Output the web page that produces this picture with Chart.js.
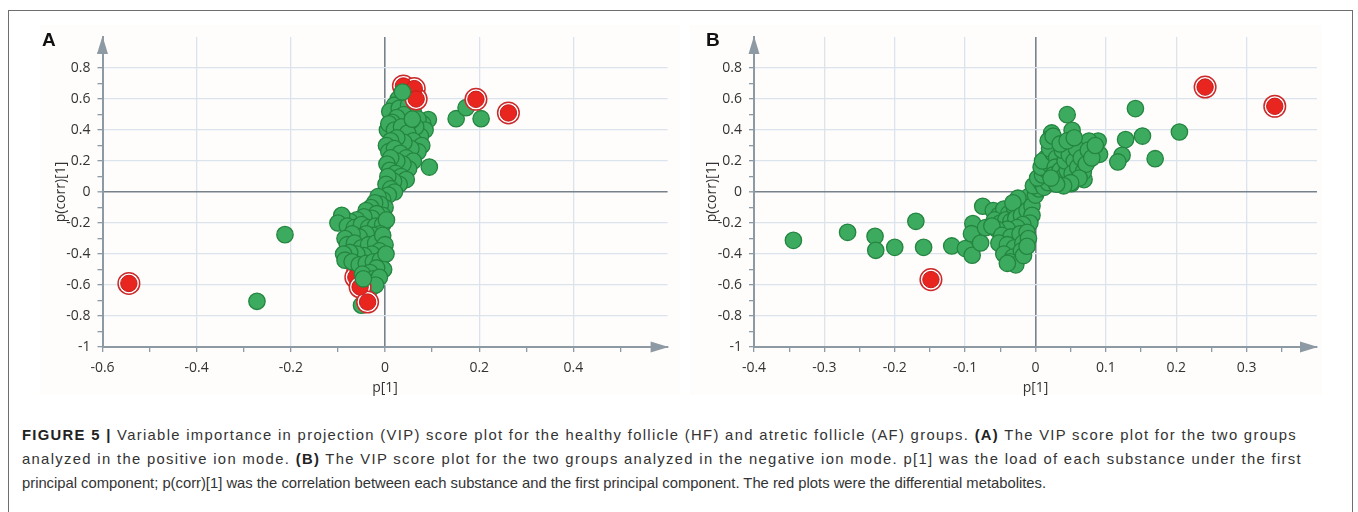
<!DOCTYPE html>
<html><head><meta charset="utf-8">
<script src="https://cdn.jsdelivr.net/npm/chart.js@4.4.0/dist/chart.umd.min.js"></script>
<style>
html,body{margin:0;padding:0;background:#fff;width:1358px;height:512px;overflow:hidden;position:relative;font-family:"Liberation Sans",Arial,sans-serif}
#frame{position:absolute;left:8px;top:10px;width:1345px;height:560px;border:1.5px solid #6e6e6e;box-sizing:border-box}
.bg{position:absolute;background:#fefdfc}
canvas{position:absolute;top:0}
.plab{position:absolute;font:bold 19px "Liberation Sans",Arial,sans-serif;color:#111}
.cap{position:absolute;left:22px;font-size:14.8px;color:#333;white-space:nowrap;line-height:24px}
.cap b{color:#222}
</style></head><body>
<div id="frame"></div>
<div class="bg" style="left:40px;top:25px;width:640px;height:370px"></div>
<div class="bg" style="left:690px;top:25px;width:632px;height:370px"></div>
<canvas id="cA" width="690" height="400" style="left:0"></canvas>
<canvas id="cB" width="668" height="400" style="left:690px"></canvas>
<div class="plab" style="left:42px;top:29px">A</div>
<div class="plab" style="left:706px;top:29px">B</div>
<div class="cap" data-w="1275" style="top:423px"><b>FIGURE 5 |</b> Variable importance in projection (VIP) score plot for the healthy follicle (HF) and atretic follicle (AF) groups. <b>(A)</b> The VIP score plot for the two groups</div>
<div class="cap" data-w="1280" style="top:447px">analyzed in the positive ion mode. <b>(B)</b> The VIP score plot for the two groups analyzed in the negative ion mode. p[1] was the load of each substance under the first</div>
<div class="cap" data-w="1024" style="top:471px">principal component; p(corr)[1] was the correlation between each substance and the first principal component. The red plots were the differential metabolites.</div>
<script>
// ---- data ----
const yTickLabels = [-1, -0.8, -0.6, -0.4, -0.2, 0, 0.2, 0.4, 0.6, 0.8];
const xTickLabelsA = [-0.6, -0.4, -0.2, 0, 0.2, 0.4];
const xTickLabelsB = [-0.4, -0.3, -0.2, -0.1, 0, 0.1, 0.2, 0.3];
const xTitle = 'p[1]';
const yTitle = 'p(corr)[1]';

const greenA = [
  [-0.272,-0.705],[-0.2125,-0.275],[0.094,0.161],[0.151,0.473],[0.172,0.544],[0.204,0.473],
  [0.028,0.60],[0.045,0.61],[0.020,0.56],[0.010,0.52],[0.030,0.54],[0.050,0.56],[0.060,0.52],
  [0.092,0.467],[0.080,0.44],[0.070,0.47],[0.085,0.40],[0.075,0.36],[0.065,0.42],[0.055,0.46],
  [0.040,0.50],[0.025,0.48],[0.015,0.45],[0.005,0.40],[0.008,0.44],[0.020,0.40],[0.035,0.42],
  [0.048,0.38],[0.060,0.33],[0.078,0.30],[0.070,0.26],[0.055,0.28],[0.040,0.32],[0.025,0.35],
  [0.012,0.33],[0.003,0.30],[0.008,0.26],[0.020,0.28],[0.032,0.25],[0.045,0.22],[0.060,0.20],
  [0.050,0.15],[0.038,0.18],[0.025,0.20],[0.012,0.22],[0.004,0.18],[0.010,0.14],[0.022,0.12],
  [0.034,0.10],[0.045,0.08],[0.030,0.05],[0.018,0.07],[0.006,0.10],[0.002,0.05],[0.012,0.02],
  [0.020,0.00],[0.007,-0.02],[-0.005,-0.05],[-0.015,-0.03],[0.000,-0.10],[-0.010,-0.08],
  [-0.022,-0.07],[-0.030,-0.10],[-0.040,-0.12],[-0.005,-0.15],[-0.018,-0.14],[-0.028,-0.17],
  [-0.045,-0.16],[-0.060,-0.18],[-0.075,-0.19],[-0.092,-0.15],[-0.100,-0.20],[-0.080,-0.22],
  [-0.065,-0.23],[-0.050,-0.21],[-0.035,-0.23],[-0.020,-0.22],[-0.005,-0.21],[0.003,-0.18],
  [-0.010,-0.27],[-0.025,-0.28],[-0.040,-0.27],[-0.055,-0.29],[-0.070,-0.27],[-0.085,-0.30],
  [-0.080,-0.34],[-0.065,-0.33],[-0.050,-0.36],[-0.035,-0.34],[-0.020,-0.33],[-0.005,-0.28],
  [0.000,-0.34],[-0.012,-0.38],[-0.028,-0.40],[-0.045,-0.41],[-0.060,-0.40],[-0.075,-0.39],
  [-0.088,-0.40],[-0.085,-0.44],[-0.070,-0.45],[-0.055,-0.47],[-0.040,-0.46],[-0.025,-0.45],
  [-0.010,-0.44],[0.002,-0.40],[-0.003,-0.50],[-0.018,-0.49],[-0.032,-0.52],[-0.048,-0.53],
  [-0.040,-0.57],[-0.025,-0.56],[-0.012,-0.55],
  [-0.030,-0.62],[-0.045,-0.63],[-0.020,-0.60],[-0.050,-0.73],[-0.038,-0.68]
];
const greenFrontA = [[0.037,0.645],[-0.046,-0.56],[0.058,0.47]];
const redBackA = [[0.048,0.495],[-0.058,-0.494],[-0.062,-0.55]];
const redA = [
  [-0.544,-0.59],[0.193,0.598],[0.262,0.51],
  [0.039,0.684],[0.062,0.667],[0.066,0.60],
  [-0.053,-0.613],[-0.037,-0.71]
];

const greenB = [
  [-0.344,-0.312],[-0.267,-0.260],[-0.228,-0.286],[-0.227,-0.376],[-0.200,-0.357],[-0.170,-0.189],
  [-0.159,-0.357],[-0.119,-0.348],[-0.0996,-0.365],[-0.090,-0.408],[-0.089,-0.204],[-0.091,-0.269],
  [-0.078,-0.329],[-0.071,-0.230],[-0.075,-0.092],
  [0.045,0.499],[0.052,0.398],[0.142,0.538],[0.152,0.361],[0.2045,0.387],[0.170,0.215],
  [0.128,0.338],[0.123,0.237],[0.117,0.194],[0.091,0.243],[0.089,0.329],[0.076,0.329],
  [0.069,0.080],[0.051,0.054],[0.023,0.381],[0.021,0.346],[0.0307,0.284],[0.0098,0.183],
  [-0.060,-0.12],[-0.052,-0.15],[-0.045,-0.11],[-0.038,-0.14],[-0.030,-0.10],[-0.022,-0.08],
  [-0.015,-0.05],[-0.010,-0.03],[-0.025,-0.04],[-0.032,-0.07],[-0.058,-0.18],[-0.050,-0.20],
  [-0.042,-0.18],[-0.035,-0.19],[-0.028,-0.17],[-0.020,-0.15],[-0.012,-0.12],[-0.005,-0.09],
  [-0.005,-0.15],[-0.008,-0.20],[-0.018,-0.21],[-0.026,-0.23],[-0.040,-0.24],[-0.055,-0.24],
  [-0.062,-0.22],[-0.048,-0.28],[-0.035,-0.29],[-0.022,-0.27],[-0.012,-0.26],[-0.052,-0.33],
  [-0.040,-0.34],[-0.030,-0.36],[-0.018,-0.33],[-0.010,-0.30],[-0.045,-0.40],[-0.032,-0.42],
  [-0.020,-0.38],[-0.036,-0.45],[-0.028,-0.47],[-0.017,-0.41],[-0.040,-0.46],[-0.012,-0.35],
  [0.000,-0.02],[0.005,0.02],[-0.003,0.04],[0.008,0.06],[0.012,0.03],[0.018,0.06],[0.003,0.09],
  [0.010,0.11],[0.016,0.14],[0.008,0.16],[0.020,0.18],[0.015,0.22],[0.010,0.20],[0.025,0.25],
  [0.020,0.28],[0.030,0.22],[0.028,0.16],[0.025,0.11],[0.035,0.14],[0.033,0.08],[0.040,0.10],
  [0.045,0.14],[0.042,0.20],[0.038,0.27],[0.048,0.24],[0.055,0.20],[0.052,0.12],[0.060,0.16],
  [0.058,0.28],[0.065,0.22],[0.068,0.13],[0.072,0.18],[0.062,0.09],[0.050,0.06],[0.040,0.04],
  [0.030,0.05],[0.022,0.09],[0.018,0.33],[0.025,0.36],[0.035,0.31],[0.045,0.33],[0.055,0.35],
  [0.075,0.27],[0.080,0.22],[0.085,0.30]
];
const greenFrontB = [];
const redBackB = [];
const redB = [[0.241,0.677],[0.340,0.553],[-0.1486,-0.565]];

// tick positions (minor + major)
const yTicks = [-1,-0.9,-0.8,-0.7,-0.6,-0.5,-0.4,-0.3,-0.2,-0.1,0,0.1,0.2,0.3,0.4,0.5,0.6,0.7,0.8,0.9,1];
const xTicksA = [-0.6,-0.5,-0.4,-0.3,-0.2,-0.1,0,0.1,0.2,0.3,0.4,0.5,0.6];
const xTicksB = [-0.4,-0.35,-0.3,-0.25,-0.2,-0.15,-0.1,-0.05,0,0.05,0.1,0.15,0.2,0.25,0.3,0.35,0.4];

// ---- caption fitting (letter-spacing so each line spans the reference width) ----
document.querySelectorAll('.cap').forEach(el => {
  const target = +el.dataset.w;
  const w = el.getBoundingClientRect().width;
  const n = el.textContent.length;
  el.style.letterSpacing = ((target - w) / n) + 'px';
});

// ---- styling ----
const GREEN_FILL = '#3dab5f', GREEN_EDGE = '#23853f';
const RED_FILL = '#e8251f', RED_EDGE = '#c41d1d', RED_RING = '#cc2a2a';
const GRID = '#dbe3ec', ZERO = '#77828c', AXIS = '#8d99a3';
Chart.defaults.font.family = '"Open Sans", "Noto Sans", sans-serif';
Chart.defaults.color = '#333';

const toPts = arr => arr.map(([x, y]) => ({x, y}));
const near = (a, b) => Math.abs(a - b) < 1e-6;

const arrowPlugin = {
  id: 'arrows',
  afterDraw(chart) {
    const {ctx, chartArea: a} = chart;
    ctx.save();
    ctx.fillStyle = AXIS;
    ctx.beginPath();
    ctx.moveTo(a.left, a.top - 1);
    ctx.lineTo(a.left - 5.5, a.top + 17);
    ctx.lineTo(a.left + 5.5, a.top + 17);
    ctx.closePath(); ctx.fill();
    ctx.beginPath();
    ctx.moveTo(a.right + 1, a.bottom);
    ctx.lineTo(a.right - 17, a.bottom - 5.5);
    ctx.lineTo(a.right - 17, a.bottom + 5.5);
    ctx.closePath(); ctx.fill();
    ctx.restore();
  }
};

function greenSet(d, order) {
  return {data: toPts(d), pointRadius: 8.2, backgroundColor: GREEN_FILL, borderColor: GREEN_EDGE, borderWidth: 1.3, order};
}
function redSets(d, order) {
  return [
    {data: toPts(d), pointRadius: 8.2, backgroundColor: RED_FILL, borderColor: RED_EDGE, borderWidth: 1, order},
    {data: toPts(d), pointRadius: 10.8, backgroundColor: '#ffffff', borderColor: RED_RING, borderWidth: 1.5, order: order + 0.5}
  ];
}

function makeChart(id, o) {
  const isLabel = (list, v) => list.some(t => near(t, v));
  return new Chart(document.getElementById(id), {
    type: 'scatter',
    data: {
      datasets: [
        greenSet(o.greenFront, 0),
        ...redSets(o.red, 1),
        greenSet(o.green, 3),
        ...redSets(o.redBack, 4)
      ]
    },
    options: {
      responsive: false, animation: false, devicePixelRatio: 1,
      layout: {padding: o.pad},
      plugins: {legend: {display: false}, tooltip: {enabled: false}},
      scales: {
        x: {
          type: 'linear', min: o.xMin, max: o.xMax,
          afterFit: s => { s.height = 53; },
          afterBuildTicks: s => { s.ticks = o.xTicks.map(v => ({value: v})); },
          ticks: {autoSkip: false, maxRotation: 0, padding: 8, color: '#333', font: {size: 14},
            callback: v => { const m = o.xLabels.find(t => near(t, v)); return m === undefined ? '' : String(m); }},
          grid: {
            drawTicks: true, tickLength: 5,
            color: c => near(c.tick.value, 0) ? ZERO : (isLabel(o.xLabels, c.tick.value) ? GRID : 'rgba(0,0,0,0)'),
            lineWidth: c => near(c.tick.value, 0) ? 1.6 : 1.3,
            tickColor: c => near(c.tick.value, o.xMax) ? 'rgba(0,0,0,0)' : AXIS,
            tickWidth: 1.3
          },
          border: {color: AXIS, width: 2},
          title: {display: true, text: xTitle, color: '#333', font: {size: 14}, padding: {top: 4, bottom: 4}}
        },
        y: {
          type: 'linear', min: -1, max: 1,
          afterFit: s => { s.width = 54; },
          afterBuildTicks: s => { s.ticks = o.yTicks.map(v => ({value: v})); },
          ticks: {autoSkip: false, padding: 7, color: '#333', font: {size: 14},
            callback: v => { const m = yTickLabels.find(t => near(t, v)); return m === undefined ? '' : String(m); }},
          grid: {
            drawTicks: true, tickLength: 5,
            color: c => near(c.tick.value, 0) ? ZERO : (isLabel(yTickLabels, c.tick.value) ? GRID : 'rgba(0,0,0,0)'),
            lineWidth: c => near(c.tick.value, 0) ? 1.6 : 1.3,
            tickColor: c => near(c.tick.value, 1) ? 'rgba(0,0,0,0)' : AXIS,
            tickWidth: 1.3
          },
          border: {color: AXIS, width: 2},
          title: {display: true, text: yTitle, color: '#333', font: {size: 14}, padding: {top: 4, bottom: 4}}
        }
      }
    },
    plugins: [arrowPlugin]
  });
}

makeChart('cA', {green: greenA, greenFront: greenFrontA, red: redA, redBack: redBackA, xMin: -0.6, xMax: 0.6,
  xTicks: xTicksA, xLabels: xTickLabelsA, yTicks, pad: {left: 48.5, right: 22.4, top: 37, bottom: 0}});
makeChart('cB', {green: greenB, greenFront: greenFrontB, red: redB, redBack: redBackB, xMin: -0.4, xMax: 0.4,
  xTicks: xTicksB, xLabels: xTickLabelsB, yTicks, pad: {left: 10, right: 41, top: 37, bottom: 0}});
</script>
</body></html>
